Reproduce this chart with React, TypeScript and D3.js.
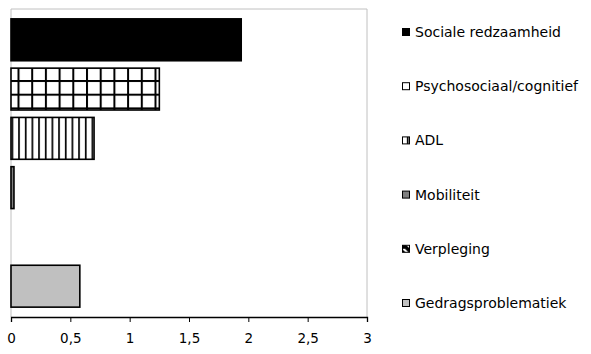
import React, { useRef, useEffect } from 'react';
import * as d3 from 'd3';

const categories = [
  'Sociale redzaamheid',
  'Psychosociaal/cognitief',
  'ADL',
  'Mobiliteit',
  'Verpleging',
  'Gedragsproblematiek',
];
const values = [1.94, 1.25, 0.7, 0.025, 0, 0.58];
const tickValues = [0, 0.5, 1, 1.5, 2, 2.5, 3];
const fills = [
  '#000000',
  'url(#grid)',
  'url(#stripes)',
  '#808080',
  'url(#diag)',
  '#c0c0c0',
];

const FONT = '"DejaVu Sans", Verdana, sans-serif';

const App = () => {
  const svgRef = useRef<SVGSVGElement>(null);

  useEffect(() => {
    const width = 591;
    const height = 354;
    const svg = d3.select(svgRef.current).attr('width', width).attr('height', height);
    svg.selectAll('*').remove();

    const plot = { left: 11, right: 367, top: 9, bottom: 317 };

    // patterns
    const defs = svg.append('defs');
    const gs = 13.7;
    const grid = defs
      .append('pattern')
      .attr('id', 'grid')
      .attr('patternUnits', 'userSpaceOnUse')
      .attr('x', 17.5)
      .attr('y', 80)
      .attr('width', gs)
      .attr('height', gs);
    grid.append('rect').attr('width', gs).attr('height', gs).attr('fill', '#fff');
    grid.append('rect').attr('x', 0).attr('y', 0).attr('width', 2).attr('height', gs).attr('fill', '#000');
    grid.append('rect').attr('x', 0).attr('y', 0).attr('width', gs).attr('height', 2).attr('fill', '#000');

    const stripes = defs
      .append('pattern')
      .attr('id', 'stripes')
      .attr('patternUnits', 'userSpaceOnUse')
      .attr('x', 11.5)
      .attr('y', 0)
      .attr('width', 6.67)
      .attr('height', 10);
    stripes.append('rect').attr('width', 6.67).attr('height', 10).attr('fill', '#fff');
    stripes.append('rect').attr('x', 0).attr('width', 1.7).attr('height', 10).attr('fill', '#000');

    const diag = defs
      .append('pattern')
      .attr('id', 'diag')
      .attr('patternUnits', 'userSpaceOnUse')
      .attr('width', 8)
      .attr('height', 8);
    diag.append('rect').attr('width', 8).attr('height', 8).attr('fill', '#000');
    diag.append('path').attr('d', 'M0,0 L8,0 L8,8 Z').attr('fill', '#fff');
    diag.append('path').attr('d', 'M3,0 L8,0 L8,5 Z').attr('fill', '#000');

    const x = d3.scaleLinear().domain([0, 3]).range([plot.left, plot.right]);
    const y = d3
      .scaleBand()
      .domain(categories)
      .range([plot.top, plot.bottom])
      .paddingInner(0.15)
      .paddingOuter(0.2);

    // plot border
    svg
      .append('path')
      .attr('d', `M${plot.left},${plot.bottom} V${plot.top} H${plot.right} V${plot.bottom}`)
      .attr('fill', 'none')
      .attr('stroke', '#c0c0c0')
      .attr('stroke-width', 1);

    // bars
    svg
      .append('g')
      .selectAll('rect')
      .data(categories.filter((d, i) => values[i] > 0))
      .enter()
      .append('rect')
      .attr('x', x(0))
      .attr('y', d => y(d) as number)
      .attr('width', d => x(values[categories.indexOf(d)]) - x(0))
      .attr('height', y.bandwidth())
      .attr('fill', d => fills[categories.indexOf(d)])
      .attr('stroke', '#000')
      .attr('stroke-width', 1.6);

    // x axis
    const axis = svg
      .append('g')
      .attr('transform', `translate(0,${plot.bottom})`)
      .call(
        d3
          .axisBottom(x)
          .tickValues(tickValues)
          .tickSize(5)
          .tickFormat(d => String(d).replace('.', ','))
      );
    axis.select('.domain').attr('stroke', '#000').attr('stroke-width', 1.3);
    axis.selectAll('line').attr('stroke', '#000');
    axis
      .selectAll('text')
      .attr('font-family', FONT)
      .attr('font-size', '13.5px')
      .attr('fill', '#000')
      .attr('dy', '0.71em')
      .attr('y', 16);

    // legend
    const legend = svg.append('g').attr('transform', 'translate(402,0)');
    categories.forEach((c, i) => {
      const cy = 32 + i * 54.2;
      const row = legend.append('g').attr('transform', `translate(0,${cy})`);
      row
        .append('rect')
        .attr('x', 0.5)
        .attr('y', -3.5)
        .attr('width', 7)
        .attr('height', 7)
        .attr('fill', fills[i] === 'url(#grid)' ? '#fff' : fills[i])
        .attr('stroke', '#000')
        .attr('stroke-width', 1);
      row
        .append('text')
        .attr('x', 13)
        .attr('y', 0)
        .attr('dy', '0.35em')
        .attr('font-family', FONT)
        .attr('font-size', '14px')
        .attr('fill', '#000')
        .text(c);
    });
  }, []);

  return (
    <svg
      ref={svgRef}
      style={{ position: 'absolute', left: 0, top: 0, background: '#fff' }}
    ></svg>
  );
};

export default App;
